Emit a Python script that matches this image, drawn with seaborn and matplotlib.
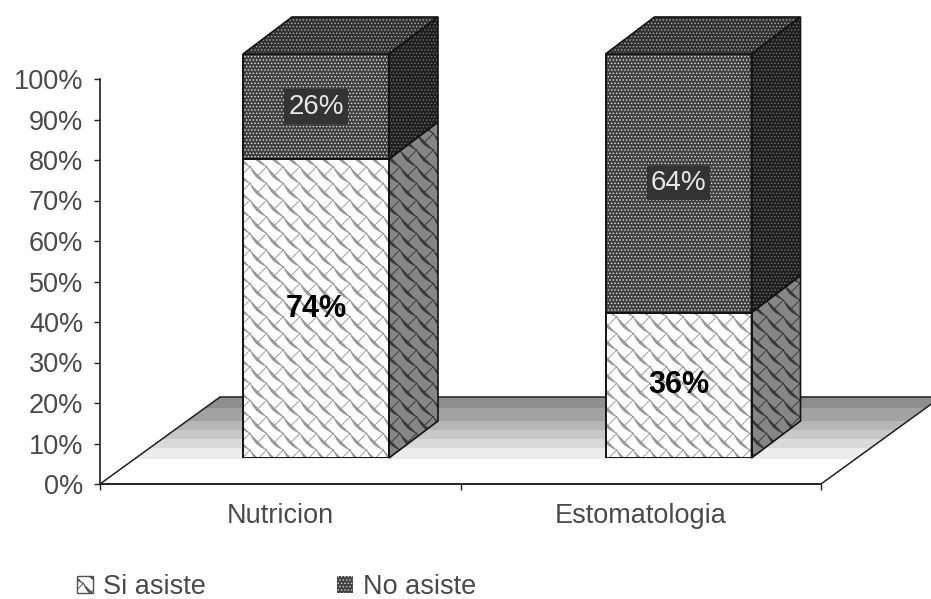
import numpy as np
import pandas as pd
import matplotlib
matplotlib.use("Agg")
import matplotlib.pyplot as plt
import matplotlib.hatch as mhatch
from matplotlib.patches import Polygon, Rectangle, Patch
import seaborn as sns

categories = ["Nutricion", "Estomatologia"]
si_asiste = [74, 36]
no_asiste = [26, 64]
series_names = ["Si asiste", "No asiste"]
y_ticks = list(range(0, 101, 10))
floor_bands = ["#8e8e8e", "#a2a2a2", "#b6b6b6", "#c8c8c8", "#dadada", "#ececec"]
band_edges = [397, 408, 421, 430, 439, 448, 459]


class Shingle(mhatch.HatchPatternBase):
    """Scalloped roof-tile fill, one tile per 1/6 inch, used for the 'O' hatch."""
    seg = 10

    def __init__(self, hatch, density):
        self.on = hatch.count("O") > 0
        self.n = 6
        self.num_vertices = (self.seg + 1 + 2) * self.n ** 2 if self.on else 0

    def set_vertices_and_codes(self, vertices, codes):
        if not self.on:
            return
        t = np.linspace(0, 1, self.seg + 1)
        b = 0.15
        ax_ = t - 0.707 * b * np.sin(np.pi * t)
        ay_ = 1 - t - 0.707 * b * np.sin(np.pi * t)
        i = 0
        for r in range(self.n):
            for c in range(self.n):
                m = len(t)
                vertices[i:i + m, 0] = (ax_ + c) / self.n
                vertices[i:i + m, 1] = (ay_ + r) / self.n
                codes[i:i + m] = mhatch.Path.LINETO
                codes[i] = mhatch.Path.MOVETO
                i += m
                vertices[i] = [(c + 1) / self.n, (r + 1) / self.n]
                vertices[i + 1] = [(c + 0.4) / self.n, (r + 0.4) / self.n]
                codes[i] = mhatch.Path.MOVETO
                codes[i + 1] = mhatch.Path.LINETO
                i += 2


mhatch._hatch_types = [Shingle if t is mhatch.LargeCircles else t for t in mhatch._hatch_types]

sns.set_theme(style="white")
plt.rcParams["font.family"] = ["Liberation Sans", "DejaVu Sans"]
plt.rcParams["hatch.linewidth"] = 0.65

W, H = 931, 599
TEXT = "#4a4a4a"
FS = 19.5
fig = plt.figure(figsize=(W / 100, H / 100), dpi=100, facecolor="white")


def rect(x0, x1, ytop, ybot):
    return [x0 / W, 1 - ybot / H, (x1 - x0) / W, (ybot - ytop) / H]


# floor (perspective backdrop) in pixel coordinates
floor_ax = fig.add_axes([0, 0, 1, 1], zorder=0)
floor_ax.set_xlim(0, W)
floor_ax.set_ylim(H, 0)
floor_ax.axis("off")
outline = [(100, 484), (220, 397), (941, 397), (821, 484)]
clip = Polygon(outline, closed=True, transform=floor_ax.transData, fc="none", ec="none")
floor_ax.add_patch(clip)
for g, y0, y1 in zip(floor_bands, band_edges[:-1], band_edges[1:]):
    band = Rectangle((90, y0), 860, y1 - y0, fc=g, ec="none")
    floor_ax.add_patch(band)
    band.set_clip_path(clip)
floor_ax.add_patch(Polygon(outline, closed=True, fc="none", ec="#202020", lw=1.1))

# axis frame
ax = fig.add_axes(rect(100, 821, 79, 484), zorder=1)
ax.patch.set_alpha(0)
ax.set_xlim(-0.5, 1.5)
ax.set_ylim(0, 100)
ax.set_xticks([-0.5, 0.5, 1.5])
ax.set_xticklabels([])
ax.set_xticks([0, 1], labels=categories, minor=True)
ax.set_yticks(y_ticks, labels=[f"{v}%" for v in y_ticks])
for s in ("top", "right"):
    ax.spines[s].set_visible(False)
for s in ("left", "bottom"):
    ax.spines[s].set_color("#202020")
    ax.spines[s].set_linewidth(1.2)
ax.tick_params(axis="both", which="major", direction="out", length=4, width=1.0,
               color="#202020", left=True, bottom=True, labelsize=FS, labelcolor=TEXT, pad=8)
ax.tick_params(axis="x", which="minor", length=0, labelsize=FS, labelcolor=TEXT, pad=14, bottom=False)

# bars: front faces through seaborn, on an axes whose baseline is the floor's depth line
bar_ax = fig.add_axes(rect(134.75, 859.75, 54, 458), zorder=2)
bar_ax.patch.set_alpha(0)
df = pd.DataFrame({"cat": categories, "si": si_asiste, "no": no_asiste})
WIDTH = 146 / 362.5
sns.barplot(data=df, x="cat", y="si", ax=bar_ax, color="white", saturation=1, width=WIDTH,
            edgecolor="#989898", linewidth=0, hatch="O", zorder=3)
n_first = len(bar_ax.patches)
sns.barplot(data=df, x="cat", y="no", bottom=df["si"].values, ax=bar_ax, color="#3e3e3e", saturation=1,
            width=WIDTH, edgecolor="#e0e0e0", linewidth=0, hatch=".....", zorder=3)
bar_ax.set_xlim(-0.5, 1.5)
bar_ax.set_ylim(0, 100)
bar_ax.axis("off")

DX = 49 / 362.5
DY = 37 / 4.04
for idx, bar in enumerate(bar_ax.patches):
    x0, x1 = bar.get_x(), bar.get_x() + bar.get_width()
    y0, y1 = bar.get_y(), bar.get_y() + bar.get_height()
    lower = idx < n_first
    side = [(x1, y0), (x1 + DX, y0 + DY), (x1 + DX, y1 + DY), (x1, y1)]
    bar_ax.add_patch(Polygon(side, closed=True, fc="#868686" if lower else "#1e1e1e",
                             ec="#383838" if lower else "#6e6e6e", lw=0,
                             hatch="O" if lower else ".....", zorder=2, clip_on=False))
    bar_ax.add_patch(Polygon(side, closed=True, fc="none", ec="#141414", lw=1.2, zorder=4, clip_on=False))
    bar_ax.add_patch(Rectangle((x0, y0), x1 - x0, y1 - y0, fc="none", ec="#141414", lw=1.4, zorder=5))
    if not lower:
        top = [(x0, y1), (x0 + DX, y1 + DY), (x1 + DX, y1 + DY), (x1, y1)]
        bar_ax.add_patch(Polygon(top, closed=True, fc="#303030", ec="#a8a8a8", lw=0,
                                 hatch=".....", zorder=2, clip_on=False))
        bar_ax.add_patch(Polygon(top, closed=True, fc="none", ec="#141414", lw=1.2, zorder=4, clip_on=False))

# value labels
for i, (a, b) in enumerate(zip(si_asiste, no_asiste)):
    bar_ax.text(i, a / 2, f"{a}%", ha="center", va="center", fontsize=22, fontweight="bold",
                color="black", zorder=6)
    bar_ax.text(i, a + b / 2, f"{b}%", ha="center", va="center", fontsize=20, color="#e8e8e8",
                zorder=6, bbox=dict(fc="#333333", ec="none", pad=3))

handles = [Patch(fc="white", ec="#505050", hatch="O", lw=1, label=series_names[0]),
           Patch(fc="#404040", ec="#d0d0d0", hatch=".....", lw=0, label=series_names[1])]
leg = fig.legend(handles=handles, ncol=2, loc="lower left", bbox_to_anchor=(77 / W, 1 - 600 / H),
                 frameon=False, fontsize=FS, labelcolor=TEXT, borderpad=0, borderaxespad=0,
                 handlelength=0.59, handleheight=0.59, handletextpad=0.37, columnspacing=4.85)

fig.savefig("out.png", dpi=100)
